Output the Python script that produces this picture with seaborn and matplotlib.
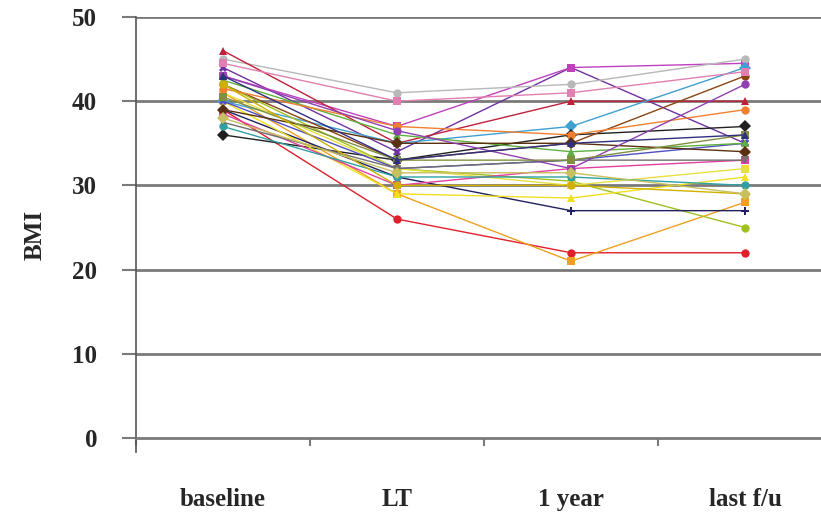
import matplotlib
matplotlib.use("Agg")
import matplotlib.pyplot as plt
import seaborn as sns
import pandas as pd

timepoints = ["baseline", "LT", "1 year", "last f/u"]

baseline = [39.0, 41.0, 44.0, 43.0, 45.0, 46.0, 40.0, 36.0, 42.0, 42.0, 39.0, 40.0, 41.0,
            38.5, 40.0, 42.5, 37.0, 41.5, 39.0, 37.5, 43.0, 40.5, 42.0, 43.0, 44.5, 38.0]
lt = [26.0, 29.0, 34.0, 37.0, 41.0, 35.0, 35.0, 33.0, 33.0, 32.0, 31.0, 29.0, 32.0,
      30.0, 32.0, 36.0, 31.0, 37.0, 35.0, 32.0, 36.5, 33.0, 30.0, 33.0, 40.0, 31.5]
year1 = [22.0, 21.0, 44.0, 44.0, 42.0, 40.0, 37.0, 36.0, 35.0, 30.5, 27.0, 28.5, 30.0,
         32.0, 33.0, 34.0, 31.0, 36.0, 35.0, 33.0, 32.0, 33.0, 30.0, 35.0, 41.0, 31.5]
last_fu = [22.0, 28.0, 35.0, 44.5, 45.0, 40.0, 44.0, 37.0, 43.0, 25.0, 27.0, 31.0, 32.0,
           33.0, 35.0, 35.0, 30.0, 39.0, 34.0, 33.0, 42.0, 36.0, 29.0, 36.0, 43.5, 29.0]

colors = ["#E0202A", "#F0A020", "#7030A0", "#C040C0", "#B8B8B8", "#C0203A", "#40A0D0",
          "#202020", "#8B4513", "#A0C020", "#202060", "#F0E020", "#E8E040", "#E040A0",
          "#5050C0", "#60B040", "#30A0A0", "#F08030", "#5A3010", "#707070", "#9040B0",
          "#809040", "#D0B000", "#303080", "#E080B0", "#C8C060"]
markers = ["o", "s", "X", "s", "o", "^", "D", "D", "o", "o", "P", "^", "s",
           "s", "X", "^", "o", "o", "D", "v", "o", "s", "o", "^", "s", "D"]

patients = [f"P{i+1}" for i in range(len(baseline))]
rows = []
for series, tp in zip([baseline, lt, year1, last_fu], timepoints):
    for p, v in zip(patients, series):
        rows.append({"patient": p, "time": tp, "BMI": v})
df = pd.DataFrame(rows)

sns.set_style("white")
plt.rcParams["font.family"] = ["Liberation Serif", "DejaVu Serif"]
plt.rcParams["font.weight"] = "bold"

fig = plt.figure(figsize=(8.21, 5.15), dpi=100)
ax = fig.add_axes([0.2, 0.2, 0.6, 0.6])
ax.set_ylim(-1.7, 50)
pos_bottom_px = 438 + 1.7 * (421 / 50)
ax.set_position([136 / 821, (515 - pos_bottom_px) / 515, 1 - 136 / 821,
                 (pos_bottom_px - 17) / 515])

sns.lineplot(data=df, x="time", y="BMI", hue="patient", style="patient",
             palette=colors, markers=markers, dashes=False, legend=False,
             linewidth=1.0, markersize=6, markeredgewidth=0, sort=False,
             ax=ax, zorder=3, clip_on=False)

ax.set_xlim(-0.5, -0.5 + (821 - 136) / 174)
ax.set_ylim(-1.7, 50)

grid_col = "#7a7a7a"
for v in [10, 20, 30, 40, 50]:
    ax.axhline(v, color=grid_col, linewidth=2.0, zorder=1)

ax.set_yticks([0, 10, 20, 30, 40, 50])
ax.set_yticklabels(["0", "10", "20", "30", "40", "50"])
ax.tick_params(axis="y", length=10, width=1.5, color=grid_col, pad=18, left=True,
               labelsize=18)

ax.set_xticks(range(4))
ax.set_xticklabels(timepoints)
ax.set_xticks([-0.5, 0.5, 1.5, 2.5], minor=True)
ax.tick_params(axis="x", which="major", length=0, pad=36, labelsize=18)
ax.tick_params(axis="x", which="minor", length=6, width=1.5, color=grid_col, bottom=True)

for s in ["top", "right"]:
    ax.spines[s].set_visible(False)
ax.spines["bottom"].set_position(("data", 0))
ax.spines["bottom"].set_color(grid_col)
ax.spines["bottom"].set_linewidth(2.0)
ax.spines["left"].set_color("#555555")
ax.spines["left"].set_linewidth(1.2)

ax.set_xlabel("")
ax.set_ylabel("BMI", fontsize=18, fontweight="bold", labelpad=18)

fig.savefig("out.png", dpi=100)
